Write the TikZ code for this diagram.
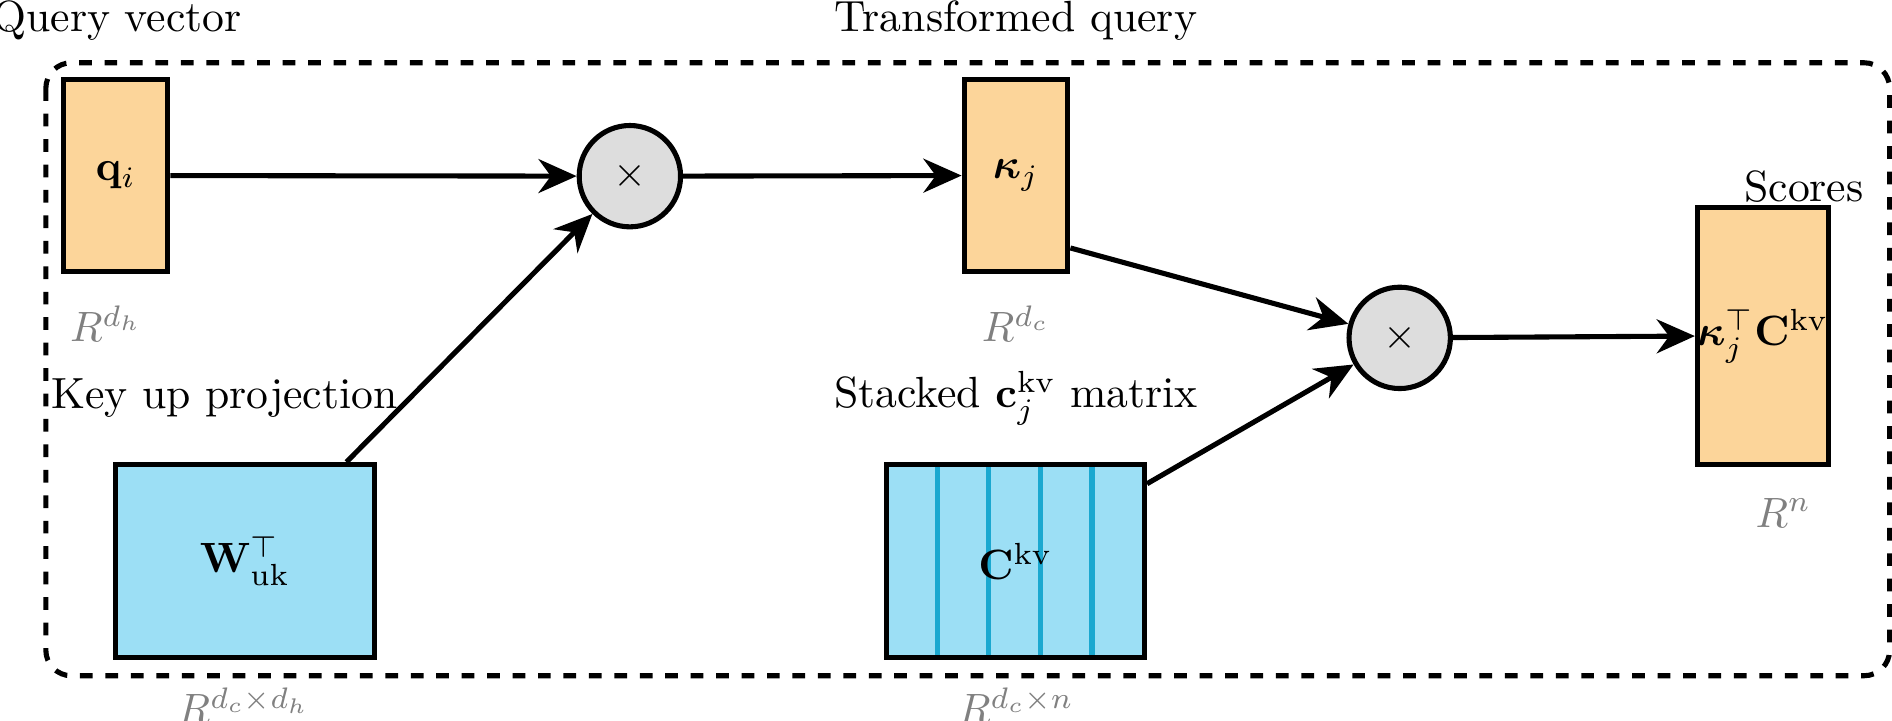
\documentclass[tikz,border=0pt]{standalone}
\usepackage{amsmath,amssymb,bm}
\usetikzlibrary{positioning,arrows.meta}
\definecolor{vecorange}{HTML}{FCD59A}
\definecolor{matblue}{HTML}{9CDFF5}
\definecolor{lineblue}{HTML}{1AA8D0}
\definecolor{opgray}{HTML}{DDDDDD}
\tikzset{
  vecbox/.style={draw, line width=1.2pt, fill=vecorange, minimum width=0.86cm, minimum height=1.59cm, inner sep=0pt},
  matbox/.style={draw, line width=1.2pt, fill=matblue, minimum width=2.14cm, minimum height=1.6cm, inner sep=0pt},
  opnode/.style={draw, line width=1.2pt, fill=opgray, circle, minimum size=0.84cm, inner sep=0pt},
  dimlabel/.style={text=gray},
  flow/.style={-{Stealth[length=9pt,width=8pt]}, line width=1.2pt},
}
\begin{document}
\begin{tikzpicture}[font=\fontsize{10.3}{12}\selectfont]
\useasboundingbox (0,0) rectangle (15.68,-5.97);
\draw[dashed, line width=1.2pt, rounded corners=6pt] (0.38,-0.52) rectangle (15.66,-5.6);
% query side
\node[vecbox] (q) at (0.96,-1.455) {$\mathbf{q}_i$};
\node[dimlabel] (qdim) at (0.88,-2.68) {$R^{d_h}$};
\node (qlabel) at (0.97,-0.17) {Query vector};
\node[opnode] (mul1) at (5.22,-1.46) {$\times$};
\node[matbox] (w) at (2.03,-4.65) {$\mathbf{W}_{\text{uk}}^{\top}$};
\node (wlabel) at (1.86,-3.3) {Key up projection};
\node[dimlabel] (wdim) at (2.02,-5.85) {$R^{d_c\times d_h}$};
% transformed query
\node[vecbox] (k) at (8.42,-1.455) {$\bm{\kappa}_j$};
\node[dimlabel] (kdim) at (8.42,-2.68) {$R^{d_c}$};
\node (klabel) at (8.42,-0.17) {Transformed query};
\node[matbox] (c) at (8.415,-4.65) {};
\foreach \x in {7.77,8.19,8.62,9.05}
  \draw[lineblue, line width=1.2pt] (\x,-3.86) -- (\x,-5.44);
\node[matbox, fill=none] at (c) {$\mathbf{C}^{\text{kv}}$};
\node (clabel) at (8.42,-3.3) {Stacked $\mathbf{c}_j^{\text{kv}}$ matrix};
\node[dimlabel] (cdim) at (8.42,-5.85) {$R^{d_c\times n}$};
% scores
\node[opnode] (mul2) at (11.6,-2.8) {$\times$};
\node[vecbox, minimum width=1cm, minimum height=2.13cm] (s) at (14.61,-2.785) {$\bm{\kappa}_j^{\top}\mathbf{C}^{\text{kv}}$};
\node (slabel) at (14.95,-1.55) {Scores};
\node[dimlabel] (sdim) at (14.78,-4.25) {$R^{n}$};
% connectors
\draw[flow] (q.east) -- (mul1);
\draw[flow] ([xshift=-0.25cm]w.north east) -- (mul1);
\draw[flow] (mul1) -- (k.west);
\draw[flow] ([yshift=-0.6cm]k.east) -- (mul2);
\draw[flow] ([yshift=-0.18cm]c.north east) -- (mul2);
\draw[flow] (mul2) -- (s.west);
\end{tikzpicture}
\end{document}
